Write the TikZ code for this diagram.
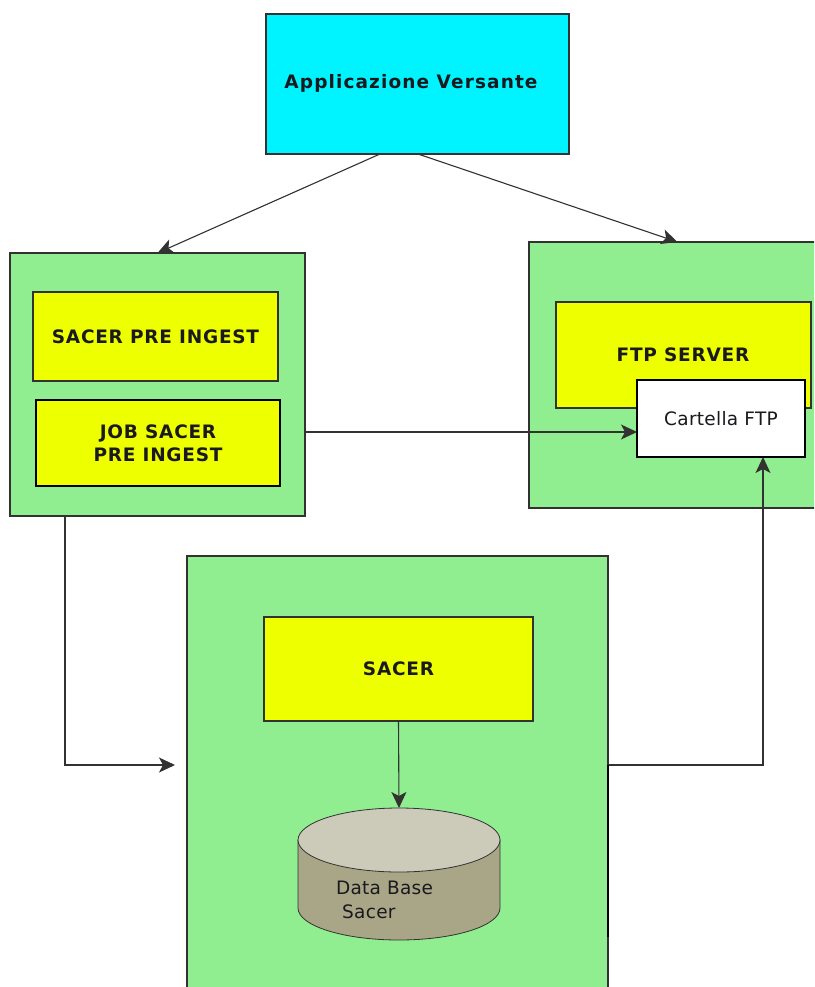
\documentclass[tikz,border=0pt]{standalone}
\usepackage{fontspec}
\setmainfont{DejaVu Sans}
\newfontfamily\labfont{DejaVu Sans}[LetterSpace=4]
\newfontfamily\appfont{DejaVu Sans}[LetterSpace=6]
\newfontfamily\regfont{DejaVu Sans}[LetterSpace=1.5]
\usetikzlibrary{arrows.meta,calc}
\definecolor{appcyan}{RGB}{0,244,255}
\definecolor{boxgreen}{RGB}{144,238,144}
\definecolor{boxyellow}{RGB}{238,255,0}
\definecolor{dbtopc}{RGB}{204,202,184}
\definecolor{dbsidec}{RGB}{169,166,135}
\definecolor{ink}{RGB}{25,25,30}
\definecolor{edge}{RGB}{50,50,50}
\begin{document}
\begin{tikzpicture}[x=1pt,y=-1pt,
  every node/.style={inner sep=0pt, outer sep=0pt, text=ink},
  boldtext/.style={font=\labfont\fontsize{18.5}{23}\selectfont\bfseries},
  container/.style={draw=edge, line width=1.1pt, fill=boxgreen, rectangle, anchor=north west},
  ybox/.style={draw=edge, line width=1.1pt, fill=boxyellow, rectangle, anchor=north west, align=center, boldtext},
  thickbox/.style={line width=2.2pt, draw=black},
  arr/.style={draw=edge, line width=1.1pt, -{Stealth[length=16pt,width=15pt,inset=4pt]}}
]
\clip (0,0) rectangle (814,987);
\fill[white] (0,0) rectangle (814,987);

% top application box
\node[draw=edge, line width=1.1pt, fill=appcyan, anchor=north west, minimum width=303pt, minimum height=140pt] (app) at (266,14) {};
\node[font=\appfont\fontsize{18.5}{23}\selectfont\bfseries] (applabel) at (411,83) {Applicazione Versante};

% left container
\node[container, minimum width=295pt, minimum height=263pt] (leftbox) at (10,253) {};
\node[ybox, minimum width=245pt, minimum height=89pt] (preingest) at (33,292) {SACER PRE INGEST};
\node[ybox, thickbox, minimum width=244pt, minimum height=86pt] (job) at (36,400) {JOB SACER\\PRE INGEST};

% right container
\node[container, minimum width=290pt, minimum height=266pt] (ftpbox) at (529,242) {};
\node[ybox, minimum width=255pt, minimum height=106pt] (ftpserver) at (556,302) {};
\node[boldtext] (ftplabel) at (683,355) {FTP SERVER};
\node[draw=black, line width=2.2pt, fill=white, anchor=north west, minimum width=168pt, minimum height=77pt,
      font=\regfont\fontsize{18.5}{23}\selectfont] (cartella) at (637,380) {Cartella FTP};

% bottom container
\node[container, minimum width=421pt, minimum height=440pt] (dbbox) at (187,556) {};
\node[ybox, minimum width=269pt, minimum height=104pt] (sacer) at (264,617) {SACER};

% database cylinder
\fill[dbsidec, draw=edge, line width=0.8pt]
  (298,840) -- (298,908) arc[start angle=180, end angle=0, x radius=101, y radius=32] -- (500,840) -- cycle;
\fill[dbtopc, draw=edge, line width=0.8pt] (399,840) ellipse[x radius=101, y radius=32];
\coordinate (dbtop) at (399,808);
\node[anchor=north west, align=left, font=\regfont\fontsize{18.5}{24}\selectfont] (dblabel) at (336,881) {Data Base\\\ Sacer};

% connector anchors
\coordinate (inL) at (175,765);
\coordinate (outR) at (608,765);
\coordinate (outRend) at (608,937);

% connectors
\draw[arr] ([xshift=-37.5pt]app.south) -- (leftbox.north);
\draw[arr] ([xshift=0.5pt]app.south) -- ([xshift=3.5pt]ftpbox.north);
\draw[arr] ([yshift=11pt]job.east -| leftbox.east) -- ([yshift=11pt]job.east -| cartella.west);
\draw[arr] ([xshift=55pt]leftbox.south west) |- (inL);
\draw[arr] (outR) -| ([xshift=42pt]cartella.south);
\draw[line width=2.2pt, draw=black] (outR) -- (outRend);
\draw[arr] (sacer.south) -- (dbtop);
\end{tikzpicture}
\end{document}
